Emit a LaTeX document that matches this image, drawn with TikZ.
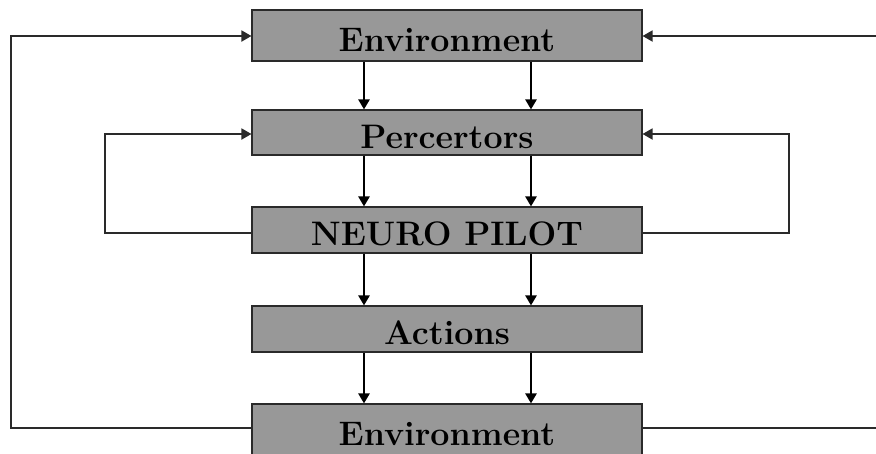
\documentclass[tikz,border=0pt]{standalone}
\usetikzlibrary{arrows.meta}
\definecolor{boxgray}{HTML}{989898}
\definecolor{edge}{HTML}{2A2A2A}
\begin{document}
\begin{tikzpicture}[x=1pt,y=-1pt,
  block/.style={draw=edge, line width=1.1pt, fill=boxgray, minimum width=390pt,
    inner sep=0pt, text=black, text height=31pt, text depth=0pt,
    font=\fontsize{34}{34}\selectfont\bfseries},
  tip/.style={-{Triangle[length=10pt,width=11pt]}},
  flow/.style={tip, line width=2.4pt, black},
  fback/.style={tip, line width=1.8pt, edge},
  plain/.style={line width=1.8pt, edge}]

% canvas
\path[use as bounding box, clip] (0,0) rectangle (876,453);
\fill[white] (0,0) rectangle (876,453);

% blocks
\node[block, minimum height=51pt] (env1) at (447,35.5)  {Environment};
\node[block, minimum height=45pt] (perc) at (447,132.5) {Percertors};
\node[block, minimum height=46pt] (pilot) at (447,230)  {NEURO PILOT};
\node[block, minimum height=46pt] (act)  at (447,329)   {Actions};
\node[block, minimum height=52pt] (env2) at (447,430)   {Environment};

% downward flow, two parallel channels
\foreach \a/\b in {env1/perc, perc/pilot, pilot/act, act/env2}{
  \draw[flow] ([xshift=-83pt]\a.south) -- ([xshift=-83pt]\b.north);
  \draw[flow] ([xshift=84pt]\a.south) -- ([xshift=84pt]\b.north);
}

% inner feedback loops: pilot -> percertors
\draw[fback] (pilot.west |- 0,233) -| (105,134) -- (perc.west |- 0,134);
\draw[fback] (pilot.east |- 0,233) -| (789,134) -- (perc.east |- 0,134);

% outer feedback loops: environment -> environment
\draw[fback] (env2.west |- 0,428) -| (11,36) -- (env1.west |- 0,36);
\coordinate (outR1) at (880,36);
\coordinate (outR2) at (880,428);
\draw[fback] (outR1) -- (env1.east |- 0,36);
\draw[plain] (env2.east |- 0,428) -- (outR2);
\end{tikzpicture}
\end{document}
